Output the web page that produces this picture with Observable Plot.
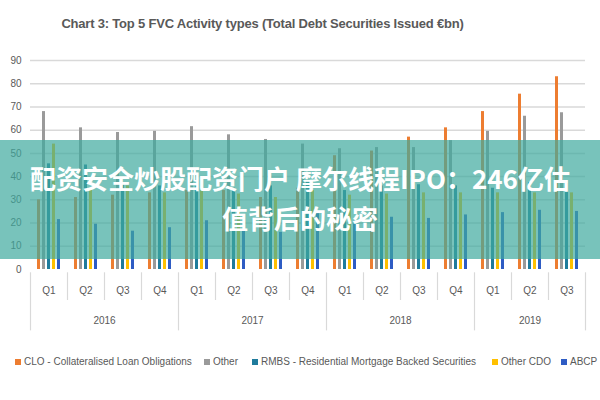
<!DOCTYPE html>
<html>
<head>
<meta charset="utf-8">
<script src="https://cdn.jsdelivr.net/npm/d3@7"></script>
<script src="https://cdn.jsdelivr.net/npm/@observablehq/plot@0.6"></script>
<style>
  html, body { margin: 0; padding: 0; background: #fff; }
  #wrap { position: relative; width: 600px; height: 400px; overflow: hidden; background: #fff;
    font-family: "Liberation Sans", "Roboto", sans-serif; color: #595959; }
  #title { position: absolute; top: 16px; left: 0; width: 525px; text-align: center; font-size: 13px; letter-spacing: -0.2px; font-weight: bold; color: #595959; }
  .layer { position: absolute; left: 0; overflow: visible; }
  .legend-item { position: absolute; top: 356px; font-size: 10px; color: #595959; white-space: nowrap; }
  .legend-item span.sw { display: inline-block; width: 6px; height: 6px; margin-right: 3px; vertical-align: 0px; }
  #banner { position: absolute; left: 0; top: 140px; width: 600px; height: 119px; background: rgba(62,170,158,0.7);
    color: #fff; font-family: "Noto Sans CJK SC", sans-serif; font-weight: bold; font-size: 26px; line-height: 40px;
    text-align: center; box-sizing: border-box; padding-top: 18px; }
</style>
</head>
<body>
<div id="wrap">
  <div id="title">Chart 3: Top 5 FVC Activity types (Total Debt Securities Issued €bn)</div>
</div>
<script>
const periods = ["2016 Q1","2016 Q2","2016 Q3","2016 Q4","2017 Q1","2017 Q2","2017 Q3","2017 Q4","2018 Q1","2018 Q2","2018 Q3","2018 Q4","2019 Q1","2019 Q2","2019 Q3"];
const series = ["CLO - Collateralised Loan Obligations","Other","RMBS - Residential Mortgage Backed Securities","Other CDO","ABCP"];
const colors = ["#ED7D31","#9A9A9A","#1F7B9C","#FFC000","#2E5CC4"];
const clo      = [30, 31, 32, 33, 34, 34, 31, 35, 49, 51, 57, 61, 68, 75.5, 83];
const other    = [68, 61, 59, 59.5, 61.5, 58, 56, 54, 52, 52.5, 52.5, 55.5, 59.5, 66, 67.5];
const rmbs     = [45.5, 45, 37, 36, 36, 35, 36, 38, 34, 36, 36.5, 36, 35, 37.5, 37];
const otherCdo = [54, 35, 36, 33, 34, 32.5, 31, 34, 32, 32.5, 33, 33, 33, 33, 33];
const abcp     = [21.5, 19.5, 16.5, 18, 21, 17, 16, 24, 19.5, 22.5, 22, 23.5, 24.5, 25.5, 25];
const yTicks = [0, 10, 20, 30, 40, 50, 60, 70, 80, 90];
const bannerLine1 = "配资安全炒股配资门户 摩尔线程IPO：246亿估";
const bannerLine2 = "值背后的秘密";

const valuesBySeries = [clo, other, rmbs, otherCdo, abcp];
const data = periods.flatMap((p, i) => series.map((s, j) => ({period: p, series: s, value: valuesBySeries[j][i]})));

const wrap = document.getElementById("wrap");
const font = '"Liberation Sans", "Roboto", sans-serif';

// Background: gridlines + y axis
const bg = Plot.plot({
  width: 600, height: 233, marginTop: 14, marginBottom: 10, marginLeft: 30, marginRight: 15,
  style: {background: "transparent", fontFamily: font, fontSize: "10px", color: "#595959", overflow: "visible"},
  x: {domain: [0, 1], axis: null},
  y: {domain: [0, 90], ticks: yTicks, tickSize: 0, tickPadding: 9, label: null},
  marks: [
    Plot.ruleY(yTicks.filter(t => t > 0), {stroke: "#d9d9d9", strokeWidth: 1.5})
  ]
});
bg.classList.add("layer"); bg.style.top = "46px";
wrap.appendChild(bg);

// Bars
const bars = Plot.plot({
  width: 600, height: 223, marginTop: 14, marginBottom: 0, marginLeft: 30, marginRight: 15,
  style: {background: "transparent"},
  facet: {data, x: "period"},
  fx: {domain: periods, paddingInner: 0.15, paddingOuter: 0.075, axis: null, label: null},
  x: {domain: series, padding: 0.4, axis: null},
  y: {domain: [0, 90], axis: null},
  color: {domain: series, range: colors},
  marks: [
    Plot.barY(data, {x: "series", y: "value", fill: "series"})
  ]
});
bars.classList.add("layer"); bars.style.top = "46px";
wrap.appendChild(bars);

// Category axis strip
const years = periods.map(p => p.slice(0, 4));
const bounds = d3.range(periods.length + 1);
const isLong = i => i === 0 || i === periods.length || years[i] !== years[i - 1];
const yearGroups = Array.from(d3.group(periods.map((p, i) => ({year: years[i], i})), d => d.year), ([year, arr]) => ({year, mid: arr[0].i + arr.length / 2}));
const strip = Plot.plot({
  width: 600, height: 66, marginTop: 0, marginBottom: 0, marginLeft: 30, marginRight: 15,
  style: {background: "transparent", fontFamily: font, fontSize: "10px", color: "#595959"},
  x: {domain: [0, periods.length], axis: null},
  y: {domain: [0, 1], range: [0, 66], axis: null},
  marks: [
    Plot.ruleX(bounds.filter(i => !isLong(i)), {x: d => d, y1: 0.05, y2: 0.47, stroke: "#d9d9d9", strokeWidth: 1.2}),
    Plot.ruleX(bounds.filter(isLong), {x: d => d, y1: 0.05, y2: 0.93, stroke: "#d9d9d9", strokeWidth: 1.2}),
    Plot.text(periods, {x: (d, i) => i + 0.5, y: 0.33, text: d => d.slice(5), fill: "#595959"}),
    Plot.text(yearGroups, {x: "mid", y: 0.77, text: "year", fill: "#595959"})
  ]
});
strip.classList.add("layer"); strip.style.top = "269px";
wrap.appendChild(strip);

// Legend (item left edges follow the reference layout)
const legendLeft = [15, 204, 252, 492, 561];
series.forEach((s, j) => {
  const item = document.createElement("div");
  item.className = "legend-item";
  item.style.left = legendLeft[j] + "px";
  const sw = document.createElement("span");
  sw.className = "sw"; sw.style.background = colors[j];
  item.appendChild(sw);
  item.appendChild(document.createTextNode(s));
  wrap.appendChild(item);
});

// Overlay banner
const banner = document.createElement("div");
banner.id = "banner";
banner.appendChild(document.createTextNode(bannerLine1));
banner.appendChild(document.createElement("br"));
banner.appendChild(document.createTextNode(bannerLine2));
wrap.appendChild(banner);
</script>
</body>
</html>
